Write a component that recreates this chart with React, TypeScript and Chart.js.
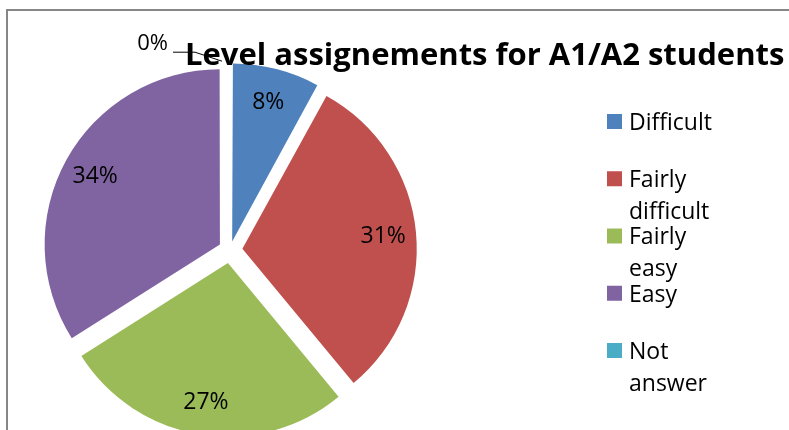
import React, { useEffect, useRef } from "react";
import { Chart, registerables } from "chart.js";

Chart.register(...registerables);

const categories = ["Difficult", "Fairly difficult", "Fairly easy", "Easy", "Not answer"];
const values = [8, 31, 27, 34, 0];
const percentLabels = ["8%", "31%", "27%", "34%", "0%"];
const legendLines = [["Difficult"], ["Fairly", "difficult"], ["Fairly", "easy"], ["Easy"], ["Not", "answer"]];
const colors = ["#4F81BD", "#C0504D", "#9BBB59", "#8064A2", "#4BACC6"];
const titleText = "Level assignements for A1/A2 students";

const FONT = "'Open Sans', Lato, sans-serif";
const EXPLODE = 13.3;
const RADIUS = 173.5;

export default function App() {
  const ref = useRef<HTMLCanvasElement | null>(null);

  useEffect(() => {
    const canvas = ref.current;
    if (!canvas) return;
    const total = values.reduce((a, b) => a + b, 0);

    const framePlugin = {
      id: "frame",
      beforeDraw(chart: any) {
        const ctx = chart.ctx;
        ctx.save();
        ctx.strokeStyle = "#868686";
        ctx.lineWidth = 2;
        ctx.strokeRect(7, 10, 900, 600);
        ctx.restore();
      },
    };

    const labelPlugin = {
      id: "labels",
      afterDatasetsDraw(chart: any) {
        const ctx = chart.ctx;
        const meta = chart.getDatasetMeta(0);
        ctx.save();
        ctx.fillStyle = "#000";
        ctx.textAlign = "center";
        ctx.textBaseline = "middle";
        ctx.font = `23px ${FONT}`;
        meta.data.forEach((arc: any, i: number) => {
          const p = arc.getProps(["x", "y", "startAngle", "endAngle", "outerRadius"], true);
          const mid = (p.startAngle + p.endAngle) / 2;
          if (values[i] > 0) {
            const dist = EXPLODE + p.outerRadius * 0.81;
            ctx.fillText(percentLabels[i], p.x + Math.cos(mid) * dist, p.y + Math.sin(mid) * dist + 1);
          } else {
            const ex = p.x + Math.cos(mid) * (p.outerRadius + EXPLODE) - 8;
            const ey = p.y + Math.sin(mid) * (p.outerRadius + EXPLODE) - 2;
            ctx.strokeStyle = "#000";
            ctx.lineWidth = 1;
            ctx.beginPath();
            ctx.moveTo(ex, ey);
            ctx.lineTo(ex - 27, ey - 9);
            ctx.lineTo(ex - 49, ey - 9);
            ctx.stroke();
            ctx.textAlign = "right";
            ctx.font = `22px ${FONT}`;
            ctx.fillText(percentLabels[i], ex - 54, ey - 17);
          }
        });
        ctx.restore();
      },
    };

    const overlayPlugin = {
      id: "overlay",
      afterDraw(chart: any) {
        const ctx = chart.ctx;
        ctx.save();
        ctx.fillStyle = "#000";
        ctx.font = `bold 31px ${FONT}`;
        ctx.textAlign = "left";
        ctx.textBaseline = "alphabetic";
        ctx.fillText(titleText, 185, 65);

        ctx.font = `23px ${FONT}`;
        categories.forEach((c, i) => {
          const cy = 121.5 + i * 57.25;
          ctx.fillStyle = colors[i];
          ctx.fillRect(607, cy - 7.5, 15, 15);
          ctx.fillStyle = "#000";
          legendLines[i].forEach((line, j) => {
            ctx.fillText(line, 629, cy + 8.3 + j * 32);
          });
        });
        ctx.restore();
      },
    };

    const chart = new Chart(canvas, {
      type: "pie",
      data: {
        labels: categories,
        datasets: [
          {
            data: values,
            backgroundColor: colors,
            borderWidth: 0,
            clip: false as any,
            offset: (c: any) => {
              const v = values[c.dataIndex];
              const circ = (v / total) * Math.PI * 2;
              const fix = 1 - Math.sin(Math.min(Math.PI, circ));
              return (4 * EXPLODE) / (1 + fix);
            },
            hoverOffset: 0,
          } as any,
        ],
      },
      options: {
        responsive: false,
        animation: false,
        radius: RADIUS,
        layout: { padding: { left: 30, right: 359, top: 70, bottom: 0 } },
        plugins: {
          legend: { display: false },
          title: { display: false },
          tooltip: { enabled: false },
        },
      } as any,
      plugins: [framePlugin, labelPlugin, overlayPlugin],
    });
    return () => chart.destroy();
  }, []);

  return (
    <div style={{ position: "fixed", left: 0, top: 0, width: 789, height: 430, background: "#fff" }}>
      <canvas ref={ref} width={789} height={430} />
    </div>
  );
}
